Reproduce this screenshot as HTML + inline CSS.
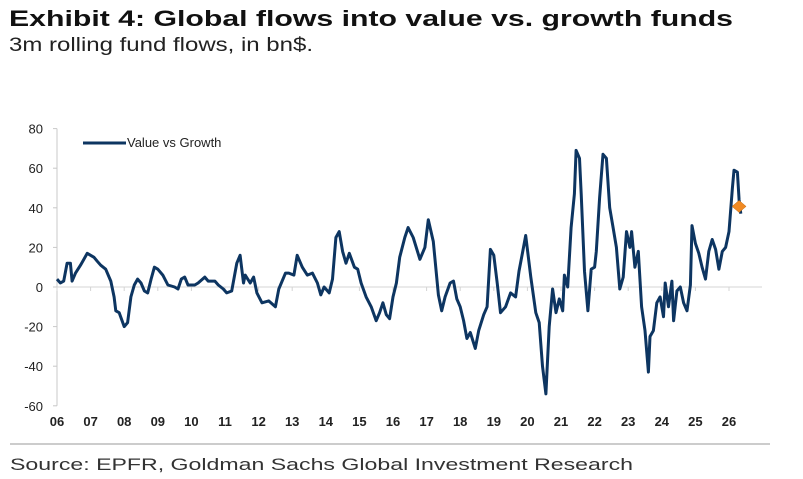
<!DOCTYPE html>
<html><head><meta charset="utf-8"><style>
body{margin:0;background:#fff;}
svg{display:block;font-family:"Liberation Sans",Arial,sans-serif;}
</style></head><body>
<svg id="c" width="803" height="479" viewBox="0 0 803 479">
<text x="9" y="26" font-size="22" font-weight="bold" fill="#111" textLength="724" lengthAdjust="spacingAndGlyphs">Exhibit 4: Global flows into value vs. growth funds</text>
<text x="9" y="51" font-size="19" fill="#222" textLength="304" lengthAdjust="spacingAndGlyphs">3m rolling fund flows, in bn$.</text>
<line x1="10" y1="444" x2="770" y2="444" stroke="#999" stroke-width="1"/>
<text x="10" y="470" font-size="17" fill="#333" textLength="623" lengthAdjust="spacingAndGlyphs">Source: EPFR, Goldman Sachs Global Investment Research</text>
<g id="axes"></g>
<g id="marks"></g>
<g>
<line x1="83" y1="143" x2="126" y2="143" stroke="#0d3561" stroke-width="3"/>
<text x="127" y="147" font-size="13" fill="#222">Value vs Growth</text>
</g>
</svg>
<script>
const yTicks=[80,60,40,20,0,-20,-40,-60];
const xTickYears=[2006,2007,2008,2009,2010,2011,2012,2013,2014,2015,2016,2017,2018,2019,2020,2021,2022,2023,2024,2025,2026];
const xLabels=["06","07","08","09","10","11","12","13","14","15","16","17","18","19","20","21","22","23","24","25","26"];
const years=[2006.0,2006.1,2006.2,2006.3,2006.4,2006.45,2006.55,2006.7,2006.8,2006.9,2007.0,2007.1,2007.2,2007.3,2007.45,2007.6,2007.7,2007.75,2007.85,2008.0,2008.1,2008.2,2008.3,2008.4,2008.5,2008.6,2008.7,2008.8,2008.9,2009.0,2009.15,2009.3,2009.5,2009.6,2009.7,2009.8,2009.9,2010.1,2010.2,2010.4,2010.5,2010.7,2010.8,2010.95,2011.05,2011.2,2011.35,2011.45,2011.55,2011.6,2011.75,2011.85,2011.95,2012.1,2012.3,2012.5,2012.6,2012.8,2012.9,2013.05,2013.15,2013.3,2013.45,2013.6,2013.75,2013.85,2013.95,2014.1,2014.2,2014.3,2014.4,2014.5,2014.6,2014.7,2014.85,2014.95,2015.05,2015.2,2015.35,2015.5,2015.6,2015.7,2015.8,2015.9,2016.0,2016.1,2016.2,2016.35,2016.45,2016.6,2016.8,2016.95,2017.05,2017.2,2017.35,2017.45,2017.55,2017.7,2017.8,2017.9,2018.0,2018.1,2018.2,2018.3,2018.45,2018.55,2018.7,2018.8,2018.9,2019.0,2019.1,2019.2,2019.35,2019.5,2019.65,2019.75,2019.85,2019.95,2020.1,2020.25,2020.35,2020.45,2020.55,2020.65,2020.75,2020.85,2020.95,2021.05,2021.1,2021.2,2021.3,2021.4,2021.45,2021.55,2021.6,2021.7,2021.8,2021.9,2022.0,2022.05,2022.15,2022.25,2022.35,2022.45,2022.55,2022.65,2022.75,2022.85,2022.95,2023.05,2023.1,2023.2,2023.3,2023.4,2023.5,2023.6,2023.65,2023.75,2023.85,2023.95,2024.05,2024.1,2024.2,2024.3,2024.35,2024.45,2024.55,2024.65,2024.75,2024.85,2024.9,2025.0,2025.1,2025.2,2025.3,2025.4,2025.5,2025.6,2025.7,2025.8,2025.9,2026.0,2026.1,2026.15,2026.25,2026.3,2026.35];
const flows=[4,2,3,12,12,3,7,11,14,17,16,15,13,11,9,3,-5,-12,-13,-20,-18,-5,1,4,2,-2,-3,4,10,9,6,1,0,-1,4,5,1,1,2,5,3,3,1,-1,-3,-2,12,16,2,6,2,5,-3,-8,-7,-10,-1,7,7,6,16,10,6,7,2,-4,0,-3,4,25,28,18,12,17,10,9,2,-5,-10,-17,-13,-8,-14,-16,-5,2,15,25,30,25,14,20,34,23,-4,-12,-5,2,3,-6,-10,-17,-26,-23,-31,-22,-14,-10,19,16,2,-13,-10,-3,-5,8,17,26,5,-13,-18,-40,-54,-20,-1,-13,-6,-12,6,0,30,47,69,65,47,8,-12,9,10,18,45,67,65,40,30,20,-1,5,28,20,28,10,18,-10,-22,-43,-25,-22,-8,-5,-15,2,-10,3,-17,-2,0,-8,-12,1,31,22,17,10,4,18,24,19,9,18,20,28,50,59,58,44,37];
const latestYear=[2026.3];
const latestValue=[40.7];

const NS="http://www.w3.org/2000/svg";
const X0=57,YR=33.6,Y0=287,PU=1.98;
function xs(y){return X0+(y-2006)*YR;}
function ys(v){return Y0-v*PU;}
function mk(t,a,p){const e=document.createElementNS(NS,t);for(const k in a)e.setAttribute(k,a[k]);p.appendChild(e);return e;}
const ax=document.getElementById('axes'),mg=document.getElementById('marks');
const yAxis=mk('line',{x1:X0,y1:ys(80),x2:X0,y2:ys(-60),stroke:'#c8c8c8','stroke-width':1},ax);


const zl=mk('line',{x1:X0,y1:ys(0),x2:762,y2:ys(0),stroke:'#d4d4d4','stroke-width':1},ax);


yTicks.forEach(v=>{
  mk('line',{x1:X0-4,y1:ys(v),x2:X0,y2:ys(v),stroke:'#c8c8c8'},ax);
  const t=mk('text',{x:43,y:ys(v)+5,'text-anchor':'end','font-size':13,fill:'#222'},ax);
  t.textContent=v;
  
  
});
xTickYears.forEach((y,i)=>{
  mk('line',{x1:xs(y),y1:ys(0),x2:xs(y),y2:ys(0)+4,stroke:'#d4d4d4'},ax);
  const t=mk('text',{x:xs(y),y:426,'text-anchor':'middle','font-size':13,'font-weight':'bold',fill:'#222'},ax);
  t.textContent=xLabels[i];
  
  
});
const d=years.map((y,i)=>(i?'L':'M')+xs(y).toFixed(1)+','+ys(flows[i]).toFixed(1)).join('');
const ln=mk('path',{d:d,fill:'none',stroke:'#0d3561','stroke-width':3,'stroke-linejoin':'round'},mg);


latestYear.forEach((y,i)=>{
  const cx=xs(y),cy=ys(latestValue[i]);
  const m=mk('polygon',{points:`${cx-7},${cy} ${cx},${cy-6} ${cx+7},${cy} ${cx},${cy+6}`,fill:'#f08a24',stroke:'#c06a10','stroke-width':0.5},mg);
  
  
});
</script>
</body></html>
